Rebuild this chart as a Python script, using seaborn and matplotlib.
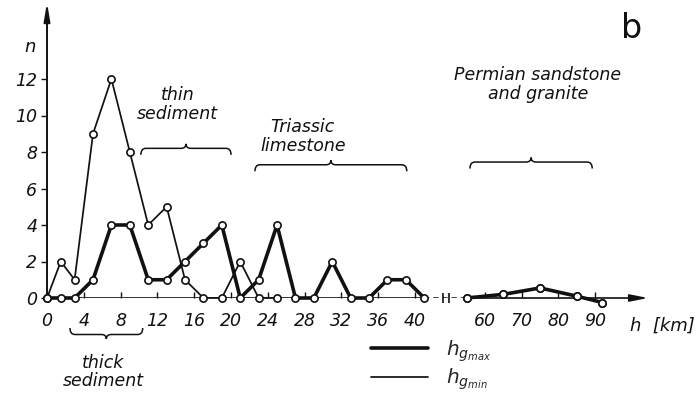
import numpy as np
import matplotlib
matplotlib.use("Agg")
import matplotlib.pyplot as plt
import seaborn as sns
from matplotlib.path import Path
from matplotlib.patches import PathPatch
from matplotlib.lines import Line2D
from matplotlib.transforms import IdentityTransform

# ---- data: number of cases n per depth class h (km) ----
h_near_max = [0, 1.5, 3, 5, 7, 9, 11, 13, 15, 17, 19, 21, 23, 25, 27, 29, 31, 33, 35, 37, 39, 41]
n_near_max = [0, 0, 0, 1, 4, 4, 1, 1, 2, 3, 4, 0, 1, 4, 0, 0, 2, 0, 0, 1, 1, 0]
h_near_min = [0, 1.5, 3, 5, 7, 9, 11, 13, 15, 17, 19, 21, 23, 25]
n_near_min = [0, 2, 1, 9, 12, 8, 4, 5, 1, 0, 0, 2, 0, 0]
# deep part, beyond the axis break
h_far = [55, 65, 75, 85, 92]
n_far_max = [0, 0.2, 0.55, 0.1, -0.25]
n_far_min = [0, 0.2, 0.55, 0.1, -0.25]

x_ticks = [0, 4, 8, 12, 16, 20, 24, 28, 32, 36, 40, 60, 70, 80, 90]
y_ticks = [0, 2, 4, 6, 8, 10, 12]

sns.set_theme(style="white")
plt.rcParams["font.family"] = ["DejaVu Sans"]
plt.rcParams["font.style"] = "italic"
plt.rcParams["mathtext.fontset"] = "dejavusans"
INK = "#111111"

# ---- broken depth axis: 0-42 km at full scale, 55+ km compressed ----
U_BREAK, X_RESUME = 42.0, 55.0
U_FAR0, SLOPE_FAR = 23.67, 0.3989
U_RESUME = U_FAR0 + SLOPE_FAR * X_RESUME


def fwd(x):
    x = np.asarray(x, float)
    mid = U_BREAK + (x - U_BREAK) * (U_RESUME - U_BREAK) / (X_RESUME - U_BREAK)
    far = U_FAR0 + SLOPE_FAR * x
    return np.where(x <= U_BREAK, x, np.where(x < X_RESUME, mid, far))


def inv(u):
    u = np.asarray(u, float)
    mid = U_BREAK + (u - U_BREAK) * (X_RESUME - U_BREAK) / (U_RESUME - U_BREAK)
    far = (u - U_FAR0) / SLOPE_FAR
    return np.where(u <= U_BREAK, u, np.where(u < U_RESUME, mid, far))


fig = plt.figure(figsize=(7.0, 4.01), dpi=100)
ax = fig.add_axes([47 / 700, 103 / 401, 601 / 700, 292 / 401])
ax.set_xscale("function", functions=(fwd, inv))
ax.set_xlim(0, 104.4)
ax.set_ylim(0, 16)

LW_MAX, LW_MIN = 2.6, 1.25
mk = dict(marker="o", markersize=5.2, markerfacecolor="white",
          markeredgecolor=INK, markeredgewidth=1.2, clip_on=False)

sns.lineplot(x=h_near_min, y=n_near_min, ax=ax, color=INK, linewidth=LW_MIN,
             sort=False, estimator=None, zorder=3, **mk)
sns.lineplot(x=h_far, y=n_far_min, ax=ax, color=INK, linewidth=LW_MIN,
             sort=False, estimator=None, zorder=3, **mk)
sns.lineplot(x=h_near_max, y=n_near_max, ax=ax, color=INK, linewidth=LW_MAX,
             sort=False, estimator=None, zorder=4, **mk)
sns.lineplot(x=h_far, y=n_far_max, ax=ax, color=INK, linewidth=LW_MAX,
             sort=False, estimator=None, zorder=4, **mk)

# ---- axes drawn by hand: arrows and the break ----
for s in ax.spines.values():
    s.set_visible(False)
ax.hlines(0, 0, 41, color=INK, lw=1.2, zorder=2)
ax.hlines(0, 41, X_RESUME, color=INK, lw=1.1, linestyles=(0, (3.5, 2.5)), zorder=2)
ax.vlines([45.8, 48.0], -0.3, 0.3, color=INK, lw=1.2, clip_on=False)
ax.annotate("", xy=(104.4, 0), xytext=(X_RESUME, 0),
            arrowprops=dict(arrowstyle="-|>,head_length=0.9,head_width=0.18",
                            color=INK, lw=1.2, shrinkA=0, shrinkB=0))
ax.annotate("", xy=(0, 16.2), xytext=(0, 0),
            arrowprops=dict(arrowstyle="-|>,head_length=0.9,head_width=0.15",
                            color=INK, lw=1.4, shrinkA=0, shrinkB=0),
            annotation_clip=False)

ax.set_xticks(x_ticks)
ax.set_xticklabels([str(t) for t in x_ticks])
ax.set_yticks(y_ticks)
ax.set_yticklabels([str(t) for t in y_ticks])
ax.tick_params(axis="x", direction="in", length=4, width=1.0, color=INK,
               pad=10, labelsize=12.5, labelcolor=INK, bottom=True)
ax.tick_params(axis="y", direction="out", length=4, width=1.0, color=INK,
               pad=3, labelsize=12.5, labelcolor=INK, left=True)
ax.grid(False)
ax.set_xlabel("")
ax.set_ylabel("")


# ---- curly braces marking the rock units ----
def brace(xa, xb, y, up=True, hook=6.5, tip=4.5, r=5.0):
    (x0, y0) = ax.transData.transform((xa, y))
    (x1, _) = ax.transData.transform((xb, y))
    xm = 0.5 * (x0 + x1)
    s = 1.0 if up else -1.0
    verts = [(x0, y0 - s * hook), (x0, y0), (x0 + r, y0),
             (xm - r, y0), (xm, y0), (xm, y0 + s * tip),
             (xm, y0), (xm + r, y0),
             (x1 - r, y0), (x1, y0), (x1, y0 - s * hook)]
    codes = [Path.MOVETO, Path.CURVE3, Path.CURVE3,
             Path.LINETO, Path.CURVE3, Path.CURVE3,
             Path.CURVE3, Path.CURVE3,
             Path.LINETO, Path.CURVE3, Path.CURVE3]
    patch = PathPatch(Path(verts, codes), facecolor="none", edgecolor=INK,
                      lw=1.1, transform=IdentityTransform())
    fig.add_artist(patch)


brace(10.2, 20.0, 8.2, up=True)
brace(22.6, 39.1, 7.3, up=True)
brace(55.9, 89.2, 7.45, up=True)
brace(2.5, 10.4, -2.0, up=False)

txt = dict(color=INK, fontsize=12.5, ha="center", va="center",
           linespacing=1.05, clip_on=False)
ax.text(14.2, 10.6, "thin\nsediment", **txt)
ax.text(27.8, 8.85, "Triassic\nlimestone", **txt)
ax.text(74.4, 11.7, "Permian sandstone\nand granite", **txt)
ax.text(6.1, -4.05, "thick\nsediment", **txt)

fig.text(30 / 700, 1 - 47 / 401, "n", color=INK, fontsize=13, ha="center", va="center")
fig.text(630 / 700, 1 - 326 / 401, "h  [km]", color=INK, fontsize=13,
         ha="left", va="center")
fig.text(632 / 700, 1 - 28 / 401, "b", color=INK, fontsize=24, style="normal",
         ha="center", va="center")

# ---- legend ----
handles = [Line2D([], [], color=INK, lw=LW_MAX), Line2D([], [], color=INK, lw=LW_MIN)]
labels = [r"$h_{g_{max}}$", r"$h_{g_{min}}$"]
ax.legend(handles, labels, loc="upper left",
          bbox_to_anchor=(371 / 700, 1 - 338 / 401), bbox_transform=fig.transFigure,
          frameon=False, fontsize=14.5, handlelength=2.85, handletextpad=0.85,
          labelspacing=0.15, borderpad=0, borderaxespad=0)

fig.savefig("out.png", dpi=100, facecolor="white")
